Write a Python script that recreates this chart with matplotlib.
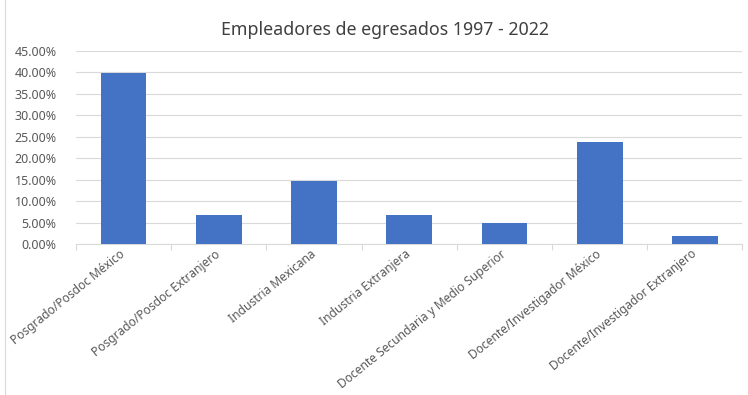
import matplotlib.pyplot as plt
from matplotlib.ticker import FuncFormatter
from matplotlib.lines import Line2D

categorias = ['Posgrado/Posdoc México', 'Posgrado/Posdoc Extranjero', 'Industria Mexicana',
              'Industria Extranjera', 'Docente Secundaria y Medio Superior',
              'Docente/Investigador México', 'Docente/Investigador Extranjero']
porcentajes = [0.398, 0.067, 0.148, 0.067, 0.049, 0.237, 0.019]
yticks = [0.0, 0.05, 0.10, 0.15, 0.20, 0.25, 0.30, 0.35, 0.40, 0.45]

plt.rcParams['font.family'] = ['Noto Sans', 'DejaVu Sans']
gris = '#595959'

fig = plt.figure(figsize=(7.48, 3.95), dpi=100)
ax = fig.add_axes([0.1016, 0.382, 0.891, 0.489])

x = range(len(categorias))
ax.bar(x, porcentajes, width=0.48, color='#4472C4', zorder=3)

ax.set_ylim(0, 0.45)
ax.set_xlim(-0.5, len(categorias) - 0.5)
ax.set_yticks(yticks)
ax.yaxis.set_major_formatter(FuncFormatter(lambda v, p: f'{v * 100:.2f}%'))
ax.grid(axis='y', color='#D9D9D9', linewidth=0.8, zorder=0)
ax.tick_params(axis='y', length=0, labelsize=9, labelcolor=gris, pad=14)

# separadores de categoria como en Excel
ax.set_xticks([i - 0.5 for i in range(len(categorias) + 1)], minor=False)
ax.set_xticklabels([])
ax.tick_params(axis='x', which='major', length=4, color='#D9D9D9', direction='out')
ax.set_xticks(list(x), minor=True)
ax.set_xticklabels(categorias, minor=True, rotation=39, ha='right', va='center',
                   rotation_mode='anchor', fontsize=8.6, color=gris)
ax.tick_params(axis='x', which='minor', length=0, pad=6)

for s in ['top', 'right', 'left']:
    ax.spines[s].set_visible(False)
ax.spines['bottom'].set_color('#D9D9D9')

fig.text(385 / 748, 1 - 30 / 395, 'Empleadores de egresados 1997 - 2022',
         ha='center', va='center', fontsize=12.8, color='#404040')

fig.add_artist(Line2D([5 / 748, 5 / 748], [0, 1], color='#D9D9D9', linewidth=0.8,
                      transform=fig.transFigure))

fig.savefig('out.png', dpi=100, facecolor='white')
